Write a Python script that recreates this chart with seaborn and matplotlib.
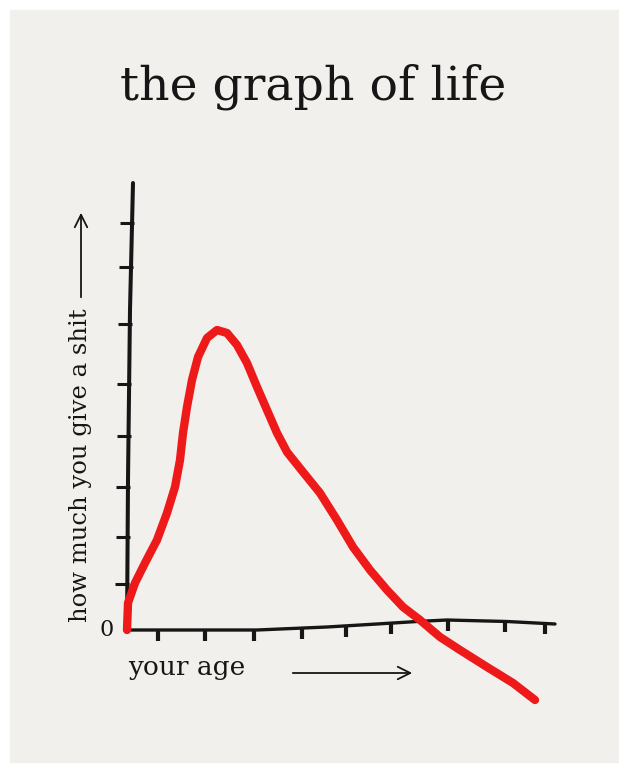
import numpy as np
import pandas as pd
import seaborn as sns
import matplotlib.pyplot as plt
from matplotlib.patches import Rectangle

# ---------------- datos ----------------
# curva roja: edad vs "cuanto te importa" (unidades arbitrarias)
edad = [0.0, 0.1, 0.8, 1.8, 3.0, 4.0, 4.8, 5.3, 5.6, 6.0, 6.5, 7.1, 8.0, 9.0,
        10.0, 11.0, 12.0, 13.0, 14.0, 15.0, 16.0, 17.6, 19.3, 21.0, 22.6, 24.3,
        26.0, 27.6, 29.3, 31.3, 33.3, 36.0, 38.6, 40.8]
importa = [0.0, 2.7, 4.7, 6.7, 9.0, 11.7, 14.3, 17.0, 19.7, 22.3, 25.0, 27.3, 29.2, 30.0,
           29.7, 28.5, 26.7, 24.3, 22.0, 19.7, 17.8, 15.8, 13.7, 11.0, 8.3, 6.0,
           4.0, 2.3, 1.0, -0.7, -2.0, -3.7, -5.3, -7.0]

# ejes dibujados a mano
eje_x_x = [0.0, 13.0, 20.0, 25.0, 29.0, 32.0, 38.0, 42.8]
eje_x_y = [0.0, 0.0, 0.3, 0.6, 0.85, 1.0, 0.85, 0.6]
eje_y_x = [0.0, 0.1, 0.3, 0.6]
eje_y_y = [0.0, 15.0, 32.0, 44.7]

# marcas de los ejes
marcas_x = [3.1, 7.8, 12.7, 17.5, 21.9, 26.4, 32.1, 37.8, 41.8]
marcas_y = [4.6, 9.3, 14.3, 19.4, 24.6, 30.6, 36.3, 40.7]

titulo = "the graph of life"
etiqueta_y = "how much you give a shit"
etiqueta_x = "your age"

papel = "#f2f0ed"
rojo = "#ee1a1a"
tinta = "#161616"

# ---------------- figura ----------------
sns.set_style("white")
plt.rcParams['font.family'] = ['DejaVu Serif']

fig = plt.figure(figsize=(6.19, 7.76), dpi=100)
fig.patch.set_facecolor("white")
fig.patches.append(Rectangle((10 / 619, 14 / 776), 1, 752 / 776,
                             transform=fig.transFigure, color=papel, zorder=-10))
ax = fig.add_axes([0, 0, 1, 1])
ax.set_facecolor("none")
ax.set_xlim(-12.7, 49.2)
ax.set_ylim(-14.6, 63.0)
ax.axis("off")

# ejes a mano
sns.lineplot(x=eje_y_x, y=eje_y_y, color=tinta, lw=2.9, sort=False, ax=ax,
             solid_capstyle="round")
sns.lineplot(x=eje_x_x, y=eje_x_y, color=tinta, lw=2.4, sort=False, ax=ax,
             solid_capstyle="round")

# marcas
pos_eje_y = np.interp(marcas_y, eje_y_y, eje_y_x)
ax.hlines(marcas_y, pos_eje_y - 1.2, pos_eje_y + 0.2, color=tinta, lw=2.2)
pos_eje_x = np.interp(marcas_x, eje_x_x, eje_x_y)
ax.vlines(marcas_x, pos_eje_x - 1.1, pos_eje_x, color=tinta, lw=3.0)

# curva roja
df = pd.DataFrame({"edad": edad, "importa": importa})
sns.lineplot(data=df, x="edad", y="importa", color=rojo, lw=6.0, sort=False, ax=ax,
             solid_capstyle="round", solid_joinstyle="round", zorder=5)

# textos
ax.text(18.6, 54.3, titulo, fontsize=34, ha="center", va="center", color=tinta)
ax.text(-4.6, 16.5, etiqueta_y, fontsize=17.5, rotation=90, ha="center", va="center",
        color=tinta)
ax.annotate("", xy=(-4.6, 42.0), xytext=(-4.6, 33.0),
            arrowprops=dict(arrowstyle="->,head_length=0.9,head_width=0.45", lw=1.3,
                            color=tinta))
ax.text(-2.0, 0.0, "0", fontsize=16, ha="center", va="center", color=tinta)
ax.text(0.1, -3.8, etiqueta_x, fontsize=19, ha="left", va="center", color=tinta)
ax.annotate("", xy=(28.8, -4.3), xytext=(16.3, -4.3),
            arrowprops=dict(arrowstyle="->,head_length=0.9,head_width=0.45", lw=1.3,
                            color=tinta))

fig.savefig("out.png", dpi=100, facecolor=fig.get_facecolor())
